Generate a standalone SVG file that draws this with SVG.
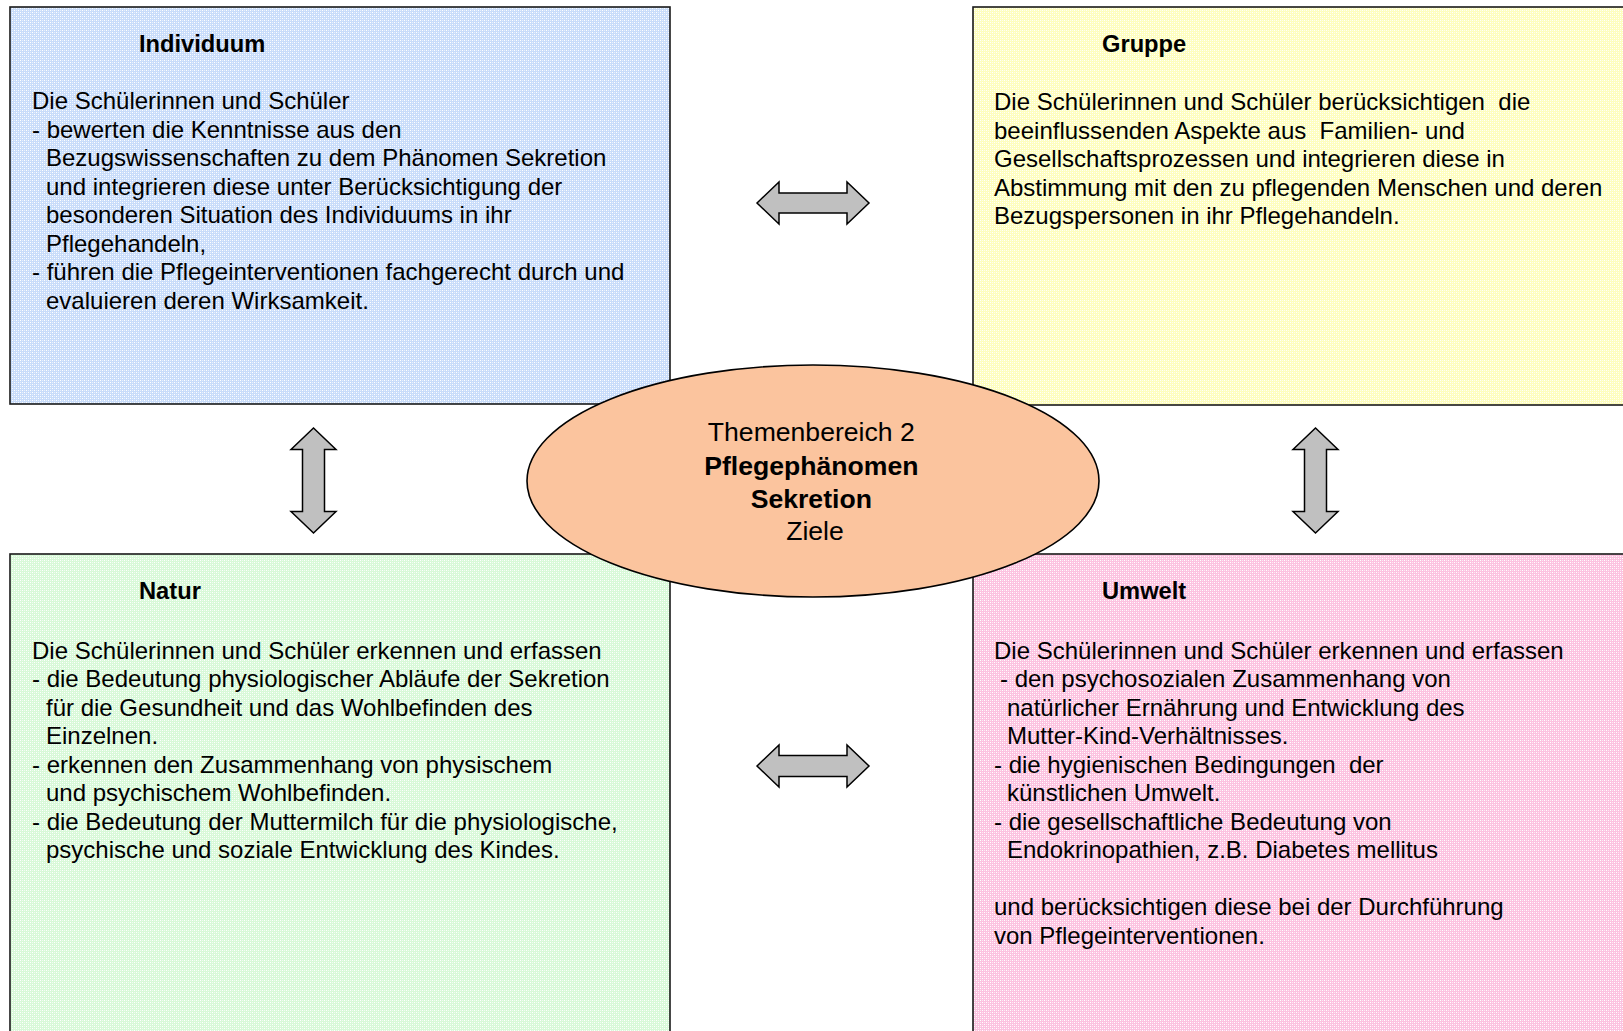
<svg xmlns="http://www.w3.org/2000/svg" width="1623" height="1031" viewBox="0 0 1623 1031">
  <defs>
    <pattern id="pBlue" width="4" height="4" patternUnits="userSpaceOnUse">
      <rect width="4" height="4" fill="#c8dcfa"/>
      <rect x="0" y="0" width="1" height="1" fill="#ffffff"/>
      <rect x="2" y="2" width="1" height="1" fill="#ffffff"/>
      <rect x="2" y="0" width="1" height="1" fill="#e6effc"/>
      <rect x="0" y="2" width="1" height="1" fill="#e6effc"/>
    </pattern>
    <pattern id="pYellow" width="4" height="4" patternUnits="userSpaceOnUse">
      <rect width="4" height="4" fill="#fefebe"/>
      <rect x="0" y="0" width="1" height="1" fill="#ffffff"/>
      <rect x="2" y="2" width="1" height="1" fill="#ffffff"/>
      <rect x="2" y="0" width="1" height="1" fill="#ffffe6"/>
      <rect x="0" y="2" width="1" height="1" fill="#ffffe6"/>
    </pattern>
    <pattern id="pGreen" width="4" height="4" patternUnits="userSpaceOnUse">
      <rect width="4" height="4" fill="#d8f9d8"/>
      <rect x="0" y="0" width="1" height="1" fill="#ffffff"/>
      <rect x="2" y="2" width="1" height="1" fill="#ffffff"/>
      <rect x="2" y="0" width="1" height="1" fill="#effdef"/>
      <rect x="0" y="2" width="1" height="1" fill="#effdef"/>
    </pattern>
    <pattern id="pPink" width="4" height="4" patternUnits="userSpaceOnUse">
      <rect width="4" height="4" fill="#fcc2e0"/>
      <rect x="0" y="0" width="1" height="1" fill="#ffffff"/>
      <rect x="2" y="2" width="1" height="1" fill="#ffffff"/>
      <rect x="2" y="0" width="1" height="1" fill="#fee6f2"/>
      <rect x="0" y="2" width="1" height="1" fill="#fee6f2"/>
    </pattern>
  </defs>
  <style>
    .box { stroke: #1a1a1a; stroke-width: 1.6; }
    .title { font-family: "Liberation Sans", Arial, sans-serif; font-size: 23.7px; font-weight: bold; fill: #000; }
    .body { font-family: "Liberation Sans", Arial, sans-serif; font-size: 24px; fill: #000; }
    .center { font-family: "Liberation Sans", Arial, sans-serif; font-size: 26.6px; fill: #000; text-anchor: middle; }
    .bold { font-weight: bold; }
    .arrow { fill: #c0c0c0; stroke: #000; stroke-width: 1.5; stroke-linejoin: miter; }
  </style>
  <rect width="1623" height="1031" fill="#ffffff"/>

  <g id="individuum">
    <rect class="box" x="10" y="7" width="660" height="397" fill="url(#pBlue)"/>
    <text class="title" x="139" y="52">Individuum</text>
    <text class="body">
      <tspan x="32" y="109">Die Schülerinnen und Schüler</tspan>
      <tspan x="32" y="137.5">- bewerten die Kenntnisse aus den</tspan>
      <tspan x="46" y="166">Bezugswissenschaften zu dem Phänomen Sekretion</tspan>
      <tspan x="46" y="194.5">und integrieren diese unter Berücksichtigung der</tspan>
      <tspan x="46" y="223">besonderen Situation des Individuums in ihr</tspan>
      <tspan x="46" y="251.5">Pflegehandeln,</tspan>
      <tspan x="32" y="280">- führen die Pflegeinterventionen fachgerecht durch und</tspan>
      <tspan x="46" y="308.5">evaluieren deren Wirksamkeit.</tspan>
    </text>
  </g>

  <g id="gruppe">
    <rect class="box" x="973" y="7" width="660" height="398" fill="url(#pYellow)"/>
    <text class="title" x="1102" y="52">Gruppe</text>
    <text class="body" xml:space="preserve"><tspan x="994" y="110">Die Schülerinnen und Schüler berücksichtigen  die</tspan><tspan x="994" y="138.5">beeinflussenden Aspekte aus  Familien- und</tspan><tspan x="994" y="167">Gesellschaftsprozessen und integrieren diese in</tspan><tspan x="994" y="195.5">Abstimmung mit den zu pflegenden Menschen und deren</tspan><tspan x="994" y="224">Bezugspersonen in ihr Pflegehandeln.</tspan></text>
  </g>

  <g id="natur">
    <rect class="box" x="10" y="554" width="660" height="490" fill="url(#pGreen)"/>
    <text class="title" x="139" y="599">Natur</text>
    <text class="body">
      <tspan x="32" y="658.5">Die Schülerinnen und Schüler erkennen und erfassen</tspan>
      <tspan x="32" y="687">- die Bedeutung physiologischer Abläufe der Sekretion</tspan>
      <tspan x="46" y="715.5">für die Gesundheit und das Wohlbefinden des</tspan>
      <tspan x="46" y="744">Einzelnen.</tspan>
      <tspan x="32" y="772.5">- erkennen den Zusammenhang von physischem</tspan>
      <tspan x="46" y="801">und psychischem Wohlbefinden.</tspan>
      <tspan x="32" y="829.5">- die Bedeutung der Muttermilch für die physiologische,</tspan>
      <tspan x="46" y="858">psychische und soziale Entwicklung des Kindes.</tspan>
    </text>
  </g>

  <g id="umwelt">
    <rect class="box" x="973" y="554" width="660" height="490" fill="url(#pPink)"/>
    <text class="title" x="1102" y="599">Umwelt</text>
    <text class="body" xml:space="preserve"><tspan x="994" y="658.5">Die Schülerinnen und Schüler erkennen und erfassen</tspan><tspan x="1000" y="687">- den psychosozialen Zusammenhang von</tspan><tspan x="1007" y="715.5">natürlicher Ernährung und Entwicklung des</tspan><tspan x="1007" y="744">Mutter-Kind-Verhältnisses.</tspan><tspan x="994" y="772.5">- die hygienischen Bedingungen  der</tspan><tspan x="1007" y="801">künstlichen Umwelt.</tspan><tspan x="994" y="829.5">- die gesellschaftliche Bedeutung von</tspan><tspan x="1007" y="858">Endokrinopathien, z.B. Diabetes mellitus</tspan><tspan x="994" y="915">und berücksichtigen diese bei der Durchführung</tspan><tspan x="994" y="943.5">von Pflegeinterventionen.</tspan></text>
  </g>

  <g id="themenbereich">
    <ellipse cx="813" cy="481" rx="286" ry="116" fill="#fbc49e" stroke="#000" stroke-width="1.6"/>
    <text class="center">
      <tspan x="815" y="441">Themenbereich 2</tspan>
      <tspan x="815" y="475" class="bold">Pflegephänomen</tspan>
      <tspan x="815" y="508" class="bold">Sekretion</tspan>
      <tspan x="815" y="540">Ziele</tspan>
    </text>
  </g>

  <g id="connectors">
    <polygon class="arrow" points="757,203 779,182 779,193 847,193 847,182 869,203 847,224 847,213 779,213 779,224"/>
    <polygon class="arrow" points="757,766 779,745 779,755.5 847,755.5 847,745 869,766 847,787 847,776.5 779,776.5 779,787"/>
    <polygon class="arrow" points="313.5,428 336,449.5 324.5,449.5 324.5,511.5 336,511.5 313.5,533 291,511.5 302.5,511.5 302.5,449.5 291,449.5"/>
    <polygon class="arrow" points="1315.5,428 1338,449.5 1326.5,449.5 1326.5,511.5 1338,511.5 1315.5,533 1293,511.5 1304.5,511.5 1304.5,449.5 1293,449.5"/>
  </g>
</svg>
